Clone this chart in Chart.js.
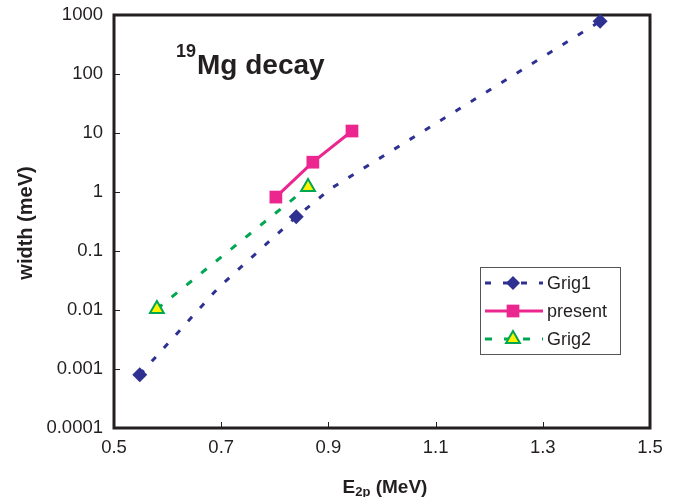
<!DOCTYPE html>
<html>
<head>
<meta charset="utf-8">
<script src="https://cdn.jsdelivr.net/npm/chart.js@4.4.1/dist/chart.umd.min.js"></script>
<style>
  html, body { margin: 0; padding: 0; background: #fff; }
  #wrap { width: 681px; height: 497px; }
</style>
</head>
<body>
<div id="wrap"><canvas id="chart"></canvas></div>
<script>
// data
const grig1X = [0.548, 0.695, 0.84, 0.905, 1.407];
const grig1Y = [0.0008, 0.024, 0.38, 1.15, 780];
const grig1Marked = [true, false, true, false, true];

const presentX = [0.802, 0.871, 0.944];
const presentY = [0.82, 3.2, 10.8];

const grig2X = [0.58, 0.862];
const grig2Y = [0.0104, 1.22];

const yTicks = [0.0001, 0.001, 0.01, 0.1, 1, 10, 100, 1000];
const yTickLabels = ["0.0001", "0.001", "0.01", "0.1", "1", "10", "100", "1000"];

const INK = "#231f20";
const NAVY = "#2e3192";
const PINK = "#ec268f";
const GREEN = "#00a651";
const YELLOW = "#fff200";
const FONT = "'Liberation Sans', Arial, sans-serif";

const toPts = (xs, ys) => xs.map((x, i) => ({ x: x, y: ys[i] }));

// frame + inner tick marks
const framePlugin = {
  id: "frame",
  beforeDatasetsDraw(chart) {
    const { ctx, chartArea: a, scales } = chart;
    ctx.save();
    ctx.strokeStyle = INK;
    ctx.lineWidth = 1;
    scales.y.ticks.forEach(t => {
      const py = Math.round(scales.y.getPixelForValue(t.value)) + 0.5;
      ctx.beginPath(); ctx.moveTo(a.left, py); ctx.lineTo(a.left + 6, py); ctx.stroke();
    });
    scales.x.ticks.forEach(t => {
      const px = Math.round(scales.x.getPixelForValue(t.value)) + 0.5;
      ctx.beginPath(); ctx.moveTo(px, a.bottom); ctx.lineTo(px, a.bottom - 6); ctx.stroke();
    });
    ctx.lineWidth = 3;
    ctx.strokeRect(a.left, a.top, a.right - a.left, a.bottom - a.top);
    ctx.restore();
  }
};

function drawMarker(ctx, style, r, x, y) {
  if (style === "rectRot") {
    ctx.moveTo(x - r, y); ctx.lineTo(x, y - r); ctx.lineTo(x + r, y); ctx.lineTo(x, y + r); ctx.closePath();
  } else if (style === "rect") {
    const s = r * Math.SQRT1_2;
    ctx.rect(x - s, y - s, 2 * s, 2 * s);
  } else {
    ctx.moveTo(x, y - r); ctx.lineTo(x + r * 0.866, y + r * 0.5); ctx.lineTo(x - r * 0.866, y + r * 0.5); ctx.closePath();
  }
}

// titles, annotation, legend
const textPlugin = {
  id: "texts",
  afterDraw(chart) {
    const { ctx } = chart;
    ctx.save();
    ctx.fillStyle = INK;
    ctx.textBaseline = "alphabetic";
    ctx.textAlign = "left";

    // 19Mg decay
    ctx.font = "bold 18px " + FONT;
    ctx.fillText("19", 176, 57);
    const w19 = ctx.measureText("19").width;
    ctx.font = "bold 28px " + FONT;
    ctx.fillText("Mg decay", 176 + w19 + 1, 74);

    // x title with subscript
    ctx.font = "bold 13px " + FONT;
    const wSub = ctx.measureText("2p").width;
    ctx.font = "bold 19px " + FONT;
    const wE = ctx.measureText("E").width, wRest = ctx.measureText(" (MeV)").width;
    const x0 = 385 - (wE + wSub + wRest) / 2;
    ctx.fillText("E", x0, 493);
    ctx.font = "bold 13px " + FONT;
    ctx.fillText("2p", x0 + wE, 496);
    ctx.font = "bold 19px " + FONT;
    ctx.fillText(" (MeV)", x0 + wE + wSub, 493);

    // y title
    ctx.save();
    ctx.translate(32, 223);
    ctx.rotate(-Math.PI / 2);
    ctx.textAlign = "center";
    ctx.font = "bold 20px " + FONT;
    ctx.fillText("width (meV)", 0, 0);
    ctx.restore();

    // legend
    const lx = 480, ly = 267, lw = 140, lh = 87;
    ctx.fillStyle = "#fff";
    ctx.fillRect(lx, ly, lw, lh);
    ctx.strokeStyle = "#555";
    ctx.lineWidth = 1;
    ctx.strokeRect(lx + 0.5, ly + 0.5, lw, lh);
    const rows = [283, 311, 339];
    chart.data.datasets.forEach((ds, i) => {
      const y = rows[i];
      ctx.strokeStyle = ds.borderColor;
      ctx.lineWidth = ds.borderWidth;
      ctx.setLineDash(ds.borderDash || []);
      ctx.beginPath(); ctx.moveTo(485, y); ctx.lineTo(543, y); ctx.stroke();
      ctx.setLineDash([]);
      ctx.fillStyle = ds.pointBackgroundColor;
      ctx.strokeStyle = ds.pointBorderColor;
      ctx.lineWidth = ds.pointBorderWidth;
      ctx.beginPath();
      drawMarker(ctx, ds.pointStyle, ds.legendRadius, 513, y);
      ctx.fill();
      if (ds.pointBorderWidth) ctx.stroke();
      ctx.fillStyle = INK;
      ctx.font = "18px " + FONT;
      ctx.textAlign = "left";
      ctx.textBaseline = "middle";
      ctx.fillText(ds.label, 547, y + 1);
    });
    ctx.restore();
  }
};

new Chart(document.getElementById("chart"), {
  type: "scatter",
  data: {
    datasets: [
      {
        label: "Grig1",
        data: toPts(grig1X, grig1Y),
        showLine: true,
        borderColor: NAVY,
        borderWidth: 3,
        borderDash: [6, 12],
        pointStyle: "rectRot",
        pointRadius: c => grig1Marked[c.dataIndex] ? 7.5 : 0,
        legendRadius: 7,
        pointBackgroundColor: NAVY,
        pointBorderColor: NAVY,
        pointBorderWidth: 0,
        clip: false,
        order: 3
      },
      {
        label: "present",
        data: toPts(presentX, presentY),
        showLine: true,
        borderColor: PINK,
        borderWidth: 3,
        pointStyle: "rect",
        pointRadius: 9,
        legendRadius: 9,
        pointBackgroundColor: PINK,
        pointBorderColor: PINK,
        pointBorderWidth: 0,
        clip: false,
        order: 1
      },
      {
        label: "Grig2",
        data: toPts(grig2X, grig2Y),
        showLine: true,
        borderColor: GREEN,
        borderWidth: 3,
        borderDash: [7, 12],
        pointStyle: "triangle",
        pointRadius: 8,
        legendRadius: 8,
        pointBackgroundColor: YELLOW,
        pointBorderColor: GREEN,
        pointBorderWidth: 2,
        clip: false,
        order: 2
      }
    ]
  },
  options: {
    responsive: true,
    maintainAspectRatio: false,
    animation: false,
    layout: { padding: { left: 0, top: 15, right: 31, bottom: 0 } },
    plugins: { legend: { display: false }, tooltip: { enabled: false } },
    elements: { line: { tension: 0 } },
    scales: {
      x: {
        type: "linear",
        min: 0.5,
        max: 1.5,
        afterFit: s => { s.height = 69; s.paddingLeft = 0; s.paddingRight = 0; },
        grid: { display: false, drawTicks: false },
        border: { display: false },
        ticks: {
          stepSize: 0.2,
          padding: 9,
          color: INK,
          font: { family: FONT, size: 18.5 },
          callback: v => v.toFixed(1)
        }
      },
      y: {
        type: "logarithmic",
        min: 0.0001,
        max: 1000,
        afterFit: s => { s.width = 114; s.paddingTop = 0; s.paddingBottom = 0; },
        afterBuildTicks: s => { s.ticks = yTicks.map(v => ({ value: v })); },
        grid: { display: false, drawTicks: false },
        border: { display: false },
        ticks: {
          padding: 11,
          color: INK,
          font: { family: FONT, size: 18.5 },
          callback: v => yTickLabels[yTicks.indexOf(v)]
        }
      }
    }
  },
  plugins: [framePlugin, textPlugin]
});
</script>
</body>
</html>
